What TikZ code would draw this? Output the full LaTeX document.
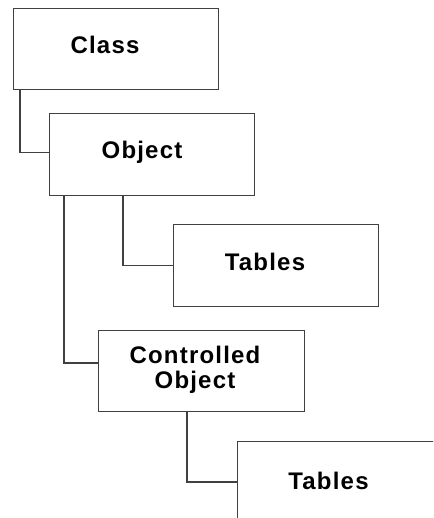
\documentclass[tikz,border=0pt]{standalone}
\usepackage{fontspec}
\setmainfont{Liberation Sans}[LetterSpace=5]
\usetikzlibrary{calc}
\begin{document}
\begin{tikzpicture}[x=1pt,y=-1pt,
  box/.style={draw=black!75, line width=1.2pt, fill=white, rectangle,
    anchor=north west, inner sep=0pt},
  lbl/.style={font=\fontsize{24}{25}\selectfont\bfseries, align=center, inner sep=0pt},
  link/.style={draw=black!75, line width=1.1pt}]
  \useasboundingbox (0,0) rectangle (433,518);
  \clip (0,0) rectangle (433,518);

  % boxes
  \node[box, minimum width=205pt, minimum height=81pt] (cls) at (13,8) {};
  \node[box, minimum width=205pt, minimum height=82pt] (obj) at (49,113) {};
  \node[box, minimum width=205pt, minimum height=82pt] (tab1) at (173,224) {};
  \node[box, minimum width=206pt, minimum height=81pt] (cobj) at (98,330) {};
  \node[box, minimum width=250pt, minimum height=140pt] (tab2) at (237,441) {};

  % labels
  \node[lbl] (tcls) at (105,45) {Class};
  \node[lbl] (tobj) at (142,152) {Object};
  \node[lbl] (ttab1) at (265,262) {Tables};
  \node[lbl] (tcobj) at (195,370) {Controlled\\Object};
  \node[lbl] (ttab2) at (328.5,481) {Tables};

  % connectors
  \draw[link] ([xshift=7pt]cls.south west) |- ([yshift=2pt]obj.west);
  \draw[link] ([xshift=15pt]obj.south west) |- ([yshift=-33pt]cobj.north west);
  \draw[link] ([xshift=74pt]obj.south west) |- (tab1.west);
  \draw[link] ([xshift=89pt]cobj.south west) |- ([yshift=-41pt]tab2.north west);
\end{tikzpicture}
\end{document}
